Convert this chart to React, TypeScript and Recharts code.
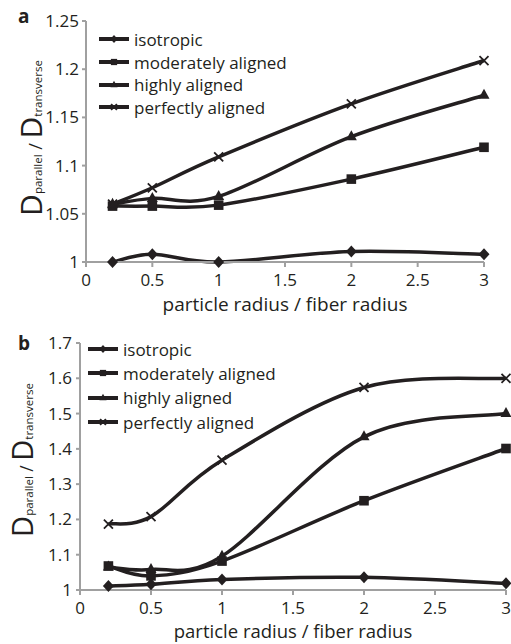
import React from 'react';
import { LineChart, Line, XAxis, YAxis, Legend, Label } from 'recharts';

const radius = [0.2, 0.5, 1, 2, 3];

// panel a
const isoA = [1.0, 1.008, 1.0, 1.011, 1.008];
const modA = [1.058, 1.058, 1.059, 1.086, 1.119];
const highA = [1.06, 1.066, 1.068, 1.13, 1.173];
const perfA = [1.06, 1.077, 1.109, 1.164, 1.209];

// panel b
const isoB = [1.011, 1.016, 1.03, 1.036, 1.019];
const modB = [1.068, 1.04, 1.082, 1.253, 1.401];
const highB = [1.065, 1.058, 1.096, 1.434, 1.5];
const perfB = [1.187, 1.208, 1.368, 1.574, 1.6];

const xTicks = [0, 0.5, 1, 1.5, 2, 2.5, 3];
const yTicksA = [1, 1.05, 1.1, 1.15, 1.2, 1.25];
const yTicksB = [1, 1.1, 1.2, 1.3, 1.4, 1.5, 1.6, 1.7];

const seriesNames = ['isotropic', 'moderately aligned', 'highly aligned', 'perfectly aligned'];
const seriesKeys = ['iso', 'mod', 'high', 'perf'];

const INK = '#231f20';
const AXIS = '#a0a0a0';
const FONT = '"Open Sans", sans-serif';

function buildRows(iso: number[], mod: number[], high: number[], perf: number[]) {
  return radius.map((r, i) => ({ r, iso: iso[i], mod: mod[i], high: high[i], perf: perf[i] }));
}

const rowsA = buildRows(isoA, modA, highA, perfA);
const rowsB = buildRows(isoB, modB, highB, perfB);

// spreadsheet-style smoothing: catmull-rom segments as cubic beziers
const smooth = (context: any) => {
  let pts: number[][] = [];
  return {
    areaStart() {},
    areaEnd() {},
    lineStart() {
      pts = [];
    },
    point(x: number, y: number) {
      pts.push([+x, +y]);
    },
    lineEnd() {
      if (!pts.length) return;
      context.moveTo(pts[0][0], pts[0][1]);
      for (let i = 0; i < pts.length - 1; i++) {
        const p0 = pts[i - 1] || pts[i];
        const p1 = pts[i];
        const p2 = pts[i + 1];
        const p3 = pts[i + 2] || p2;
        context.bezierCurveTo(
          p1[0] + (p2[0] - p0[0]) / 6,
          p1[1] + (p2[1] - p0[1]) / 6,
          p2[0] - (p3[0] - p1[0]) / 6,
          p2[1] - (p3[1] - p1[1]) / 6,
          p2[0],
          p2[1]
        );
      }
    },
  };
};

function Marker({ kind, cx, cy, s = 1 }: { kind: string; cx: number; cy: number; s?: number }) {
  if (kind === 'iso') {
    const w = 5.5 * s;
    const h = 6 * s;
    return <path d={`M${cx},${cy - h}L${cx + w},${cy}L${cx},${cy + h}L${cx - w},${cy}Z`} fill={INK} />;
  }
  if (kind === 'mod') {
    const a = 4.8 * s;
    return <rect x={cx - a} y={cy - a} width={a * 2} height={a * 2} fill={INK} />;
  }
  if (kind === 'high') {
    const w = 5.5 * s;
    return <path d={`M${cx},${cy - 6.5 * s}L${cx + w},${cy + 3.5 * s}L${cx - w},${cy + 3.5 * s}Z`} fill={INK} />;
  }
  const a = 4.5 * s;
  return (
    <path
      d={`M${cx - a},${cy - a}L${cx + a},${cy + a}M${cx - a},${cy + a}L${cx + a},${cy - a}`}
      stroke={INK}
      strokeWidth={1.8}
      fill="none"
    />
  );
}

function LegendBox({ rowGap }: { rowGap: number }) {
  return (
    <div style={{ fontFamily: FONT, fontSize: 17, color: INK }}>
      {seriesKeys.map((k, i) => (
        <div key={k} style={{ display: 'flex', alignItems: 'center', height: rowGap, whiteSpace: 'nowrap' }}>
          <svg width={30} height={14} style={{ marginRight: 5, flex: 'none' }}>
            <line x1={0} y1={7} x2={30} y2={7} stroke={INK} strokeWidth={4} />
            <Marker kind={k} cx={15} cy={7} s={0.65} />
          </svg>
          <span>{seriesNames[i]}</span>
        </div>
      ))}
    </div>
  );
}

function YTitle({ x, y, big, letter, letterY }: { x: number; y: number; big: number; letter: string; letterY: number }) {
  const sub = 11.5;
  return (
    <g>
      <text
        x={x}
        y={y}
        transform={`rotate(-90 ${x} ${y})`}
        textAnchor="middle"
        fill={INK}
        fontFamily={FONT}
      >
        <tspan fontSize={big}>D</tspan>
        <tspan fontSize={sub}>parallel</tspan>
        <tspan fontSize={big * 0.6}> / </tspan>
        <tspan fontSize={big}>D</tspan>
        <tspan fontSize={sub}>transverse</tspan>
      </text>
      <text x={18} y={letterY} fontFamily={FONT} fontWeight={700} fontSize={19} fill={INK}>
        {letter}
      </text>
    </g>
  );
}

interface PanelProps {
  rows: any[];
  yTicks: number[];
  domain: number[];
  height: number;
  margin: { top: number; right: number; left: number; bottom: number };
  tickMarginX: number;
  tickMarginY: number;
  titleOffset: number;
  titleSize: number;
  titleX: number;
  titleY: number;
  bigD: number;
  letter: string;
  letterY: number;
  legendLeft: number;
  legendTop: number;
  legendGap: number;
}

function Panel(p: PanelProps) {
  return (
    <LineChart width={511} height={p.height} data={p.rows} margin={p.margin}>
      <XAxis
        type="number"
        dataKey="r"
        domain={[0, 3]}
        ticks={xTicks}
        height={30}
        axisLine={{ stroke: AXIS, strokeWidth: 2 }}
        tickLine={{ stroke: AXIS, strokeWidth: 2 }}
        tickSize={5}
        tickMargin={p.tickMarginX}
        tick={{ fill: INK, fontSize: 17, fontFamily: FONT }}
      >
        <Label
          value="particle radius / fiber radius"
          position="bottom"
          offset={p.titleOffset}
          style={{ fill: INK, fontSize: p.titleSize, fontFamily: FONT }}
        />
      </XAxis>
      <YAxis
        type="number"
        domain={p.domain}
        ticks={p.yTicks}
        width={50}
        axisLine={{ stroke: AXIS, strokeWidth: 2 }}
        tickLine={{ stroke: AXIS, strokeWidth: 2 }}
        tickSize={4}
        tickMargin={p.tickMarginY}
        tick={{ fill: INK, fontSize: 17, fontFamily: FONT }}
      >
        <Label
          content={() => (
            <YTitle x={p.titleX} y={p.titleY} big={p.bigD} letter={p.letter} letterY={p.letterY} />
          )}
        />
      </YAxis>
      <Legend
        layout="vertical"
        align="center"
        verticalAlign="middle"
        content={() => <LegendBox rowGap={p.legendGap} />}
        wrapperStyle={{ left: p.legendLeft, top: p.legendTop, width: 200, height: 'auto' }}
      />
      {seriesKeys.map((k, i) => (
        <Line
          key={k}
          dataKey={k}
          name={seriesNames[i]}
          type={smooth as any}
          stroke={INK}
          strokeWidth={3.5}
          strokeLinejoin="round"
          isAnimationActive={false}
          activeDot={false}
          dot={(d: any) => <Marker key={`${k}-${d.index}`} kind={k} cx={d.cx} cy={d.cy} />}
        />
      ))}
    </LineChart>
  );
}

export default function App() {
  return (
    <div
      style={{
        position: 'absolute',
        left: 0,
        top: 0,
        width: 511,
        height: 644,
        background: '#fff',
        fontFamily: FONT,
      }}
    >
      <div style={{ position: 'absolute', left: 0, top: 0 }}>
        <Panel
          rows={rowsA}
          yTicks={yTicksA}
          domain={[1, 1.25]}
          height={320}
          margin={{ top: 21, right: 27, left: 36, bottom: 28 }}
          tickMarginX={7}
          tickMarginY={3}
          titleOffset={5.5}
          titleSize={19}
          titleX={42}
          titleY={138}
          bigD={30}
          letter="a"
          letterY={23}
          legendLeft={99}
          legendTop={28}
          legendGap={22.7}
        />
      </div>
      <div style={{ position: 'absolute', left: 0, top: 320 }}>
        <Panel
          rows={rowsB}
          yTicks={yTicksB}
          domain={[1, 1.7]}
          height={324}
          margin={{ top: 23, right: 5, left: 30, bottom: 24 }}
          tickMarginX={7}
          tickMarginY={4}
          titleOffset={5}
          titleSize={18.5}
          titleX={33}
          titleY={140}
          bigD={29}
          letter="b"
          letterY={30}
          legendLeft={88}
          legendTop={17}
          legendGap={24.3}
        />
      </div>
    </div>
  );
}
